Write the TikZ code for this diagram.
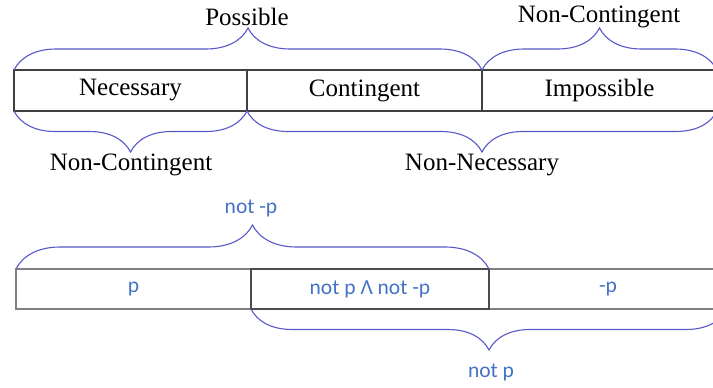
\documentclass[tikz,border=0pt]{standalone}
\usepackage{fontspec}
\setmainfont{Liberation Serif}
\newfontfamily\calib{Carlito}
\usetikzlibrary{decorations.pathreplacing}
\definecolor{bracecol}{RGB}{88,88,200}
\definecolor{txtblue}{RGB}{68,114,196}
\begin{document}
\begin{tikzpicture}[x=1pt,y=-1pt,
  topbox/.style={draw=black!75, line width=1.1pt, minimum width=#1, minimum height=41pt,
    inner sep=0pt, outer sep=0pt, anchor=north west, font=\fontsize{25}{30}\selectfont},
  lowbox/.style={draw=black!50, line width=1.4pt, minimum width=#1, minimum height=40pt,
    inner sep=0pt, outer sep=0pt, anchor=north west, text=txtblue, font=\calib\fontsize{21.5}{26}\selectfont},
  midbox/.style={lowbox=#1, draw=black!70, line width=2pt},
  brace/.style={draw=bracecol, line width=1.1pt, decorate, decoration={brace, amplitude=#1}},
  serlabel/.style={anchor=base, inner sep=0pt, font=\fontsize{25}{30}\selectfont},
  bluelabel/.style={anchor=base, inner sep=0pt, text=txtblue, font=\calib\fontsize{21.5}{26}\selectfont}]
\useasboundingbox (0,0) rectangle (713,388);
% top row
\node[topbox=233pt] (nec) at (14,70) {Necessary};
\node[topbox=235pt] (con) at (nec.north east) {Contingent};
\node[topbox=235pt] (imp) at (con.north east) {Impossible};
% top braces
\draw[brace=42pt] (nec.north west) -- (con.north east);
\draw[brace=42pt] (imp.north west) -- (imp.north east);
\draw[brace=41pt] (nec.south east) -- (nec.south west);
\draw[brace=41pt] (imp.south east) -- (con.south west);
\node[serlabel] (lpos) at (247,26) {Possible};
\node[serlabel] (lnc1) at (599,23) {Non-Contingent};
\node[serlabel] (lnc2) at (131,170) {Non-Contingent};
\node[serlabel] (lnn) at (482,170) {Non-Necessary};
% bottom row
\node[lowbox=235pt] (p) at (16,269) {p};
\node[lowbox=238pt] (neg) at (489,269) {-p};
\node[midbox=238pt] (mid) at (p.north east) {not p Λ not -p};
\draw[brace=44pt] (p.north west) -- (mid.north east);
\draw[brace=41pt] (neg.south east) -- (mid.south west);
\node[bluelabel] (lnotneg) at (251,213) {not -p};
\node[bluelabel] (lnotp) at (491,377) {not p};
\end{tikzpicture}
\end{document}
